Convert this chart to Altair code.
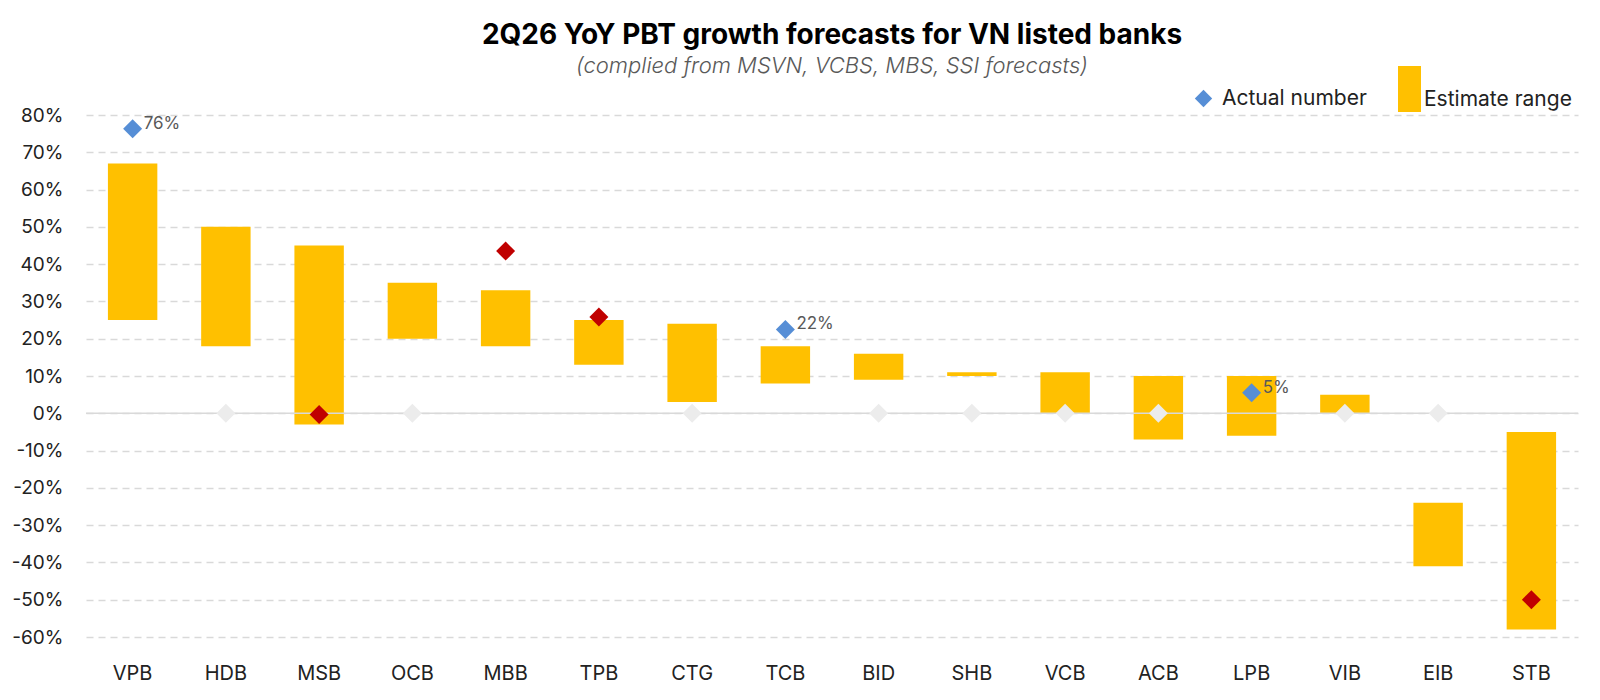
import altair as alt
import pandas as pd

banks = ["VPB", "HDB", "MSB", "OCB", "MBB", "TPB", "CTG", "TCB",
         "BID", "SHB", "VCB", "ACB", "LPB", "VIB", "EIB", "STB"]
range_low = [25, 18, -3, 20, 18, 13, 3, 8, 9, 10, 0, -7, -6, 0, -41, -58]
range_high = [67, 50, 45, 35, 33, 25, 24, 18, 16, 11, 11, 10, 10, 5, -24, -5]
actual = [76.3, 0, -0.3, 0, 43.5, 25.8, 0, 22.5, 0, 0, 0, 0, 5.5, 0, 0, -50]
marker_kind = ["Actual number", "Not reported", "Flagged", "Not reported",
               "Flagged", "Flagged", "Not reported", "Actual number",
               "Not reported", "Not reported", "Not reported", "Not reported",
               "Actual number", "Not reported", "Not reported", "Flagged"]
point_labels = ["76%", "", "", "", "", "", "", "22%", "", "", "", "", "5%", "", "", ""]
y_ticks = [-60, -50, -40, -30, -20, -10, 0, 10, 20, 30, 40, 50, 60, 70, 80]

df = pd.DataFrame({
    "bank": banks,
    "low": range_low,
    "high": range_high,
    "actual": actual,
    "kind": marker_kind,
    "label": point_labels,
    "series": ["Estimate range"] * len(banks),
})

FONT = "Inter"
TEXT = "#222222"

x_enc = alt.X(
    "bank:N", sort=banks, title=None,
    scale=alt.Scale(paddingInner=0.47, paddingOuter=0.235),
    axis=alt.Axis(labelFontSize=20, labelFont=FONT, labelColor=TEXT, tickSize=0,
                  domain=False, labelPadding=26, labelAngle=0, grid=False),
)
y_scale = alt.Scale(domain=[-60, 80], nice=False, zero=False)
y_axis = alt.Axis(values=y_ticks, labelExpr="datum.value + '%'", labelFontSize=19,
                  labelFont=FONT, labelColor=TEXT, tickSize=0, domain=False,
                  labelPadding=23, grid=True, gridColor="#d9d9d9", gridDash=[7, 5],
                  gridWidth=1.3)

base = alt.Chart(df)

bars = base.mark_bar().encode(
    x=x_enc,
    y=alt.Y("low:Q", scale=y_scale, axis=y_axis, title=None),
    y2="high:Q",
    color=alt.Color(
        "series:N",
        scale=alt.Scale(domain=["Estimate range"], range=["#FFC000"]),
        legend=alt.Legend(orient="none", legendX=1289, legendY=-49, direction="horizontal",
                          title=None, symbolType="M0,-1H1V1H0Z", symbolSize=2116,
                          symbolStrokeWidth=0, labelBaseline="top", labelOffset=3,
                          labelFontSize=21, labelFont=FONT, labelColor=TEXT,
                          labelLimit=300, padding=0),
    ),
)

zero_line = alt.Chart(pd.DataFrame({"zero": [0]})).mark_rule(
    color="#d9d9d9", strokeWidth=1.5
).encode(y=alt.Y("zero:Q", scale=y_scale, axis=y_axis, title=None))

points = base.mark_point(shape="diamond", filled=True, size=360, opacity=1).encode(
    x=x_enc,
    y=alt.Y("actual:Q", scale=y_scale, axis=y_axis, title=None),
    color=alt.Color(
        "kind:N",
        scale=alt.Scale(domain=["Actual number", "Flagged", "Not reported"],
                        range=["#568ed6", "#c00000", "#ececec"]),
        legend=alt.Legend(orient="none", legendX=1107, legendY=-27, direction="horizontal",
                          title=None, values=["Actual number"], symbolType="diamond",
                          symbolSize=300, symbolStrokeWidth=0, labelOffset=8,
                          labelFontSize=21, labelFont=FONT, labelColor=TEXT,
                          labelLimit=300, padding=0),
    ),
)

texts = base.transform_filter("datum.label != ''").mark_text(
    align="left", baseline="middle", dx=11, dy=-5, fontSize=17, font=FONT, color="#595959"
).encode(
    x=x_enc,
    y=alt.Y("actual:Q", scale=y_scale, axis=y_axis, title=None),
    text="label:N",
)

chart = alt.layer(bars, zero_line, points, texts).resolve_scale(
    color="independent"
).properties(
    width=1492,
    height=522,
    autosize=alt.AutoSizeParams(type="none"),
    padding={"left": 78, "top": 107, "right": 12, "bottom": 50},
    title=alt.TitleParams(
        text="2Q26 YoY PBT growth forecasts for VN listed banks",
        subtitle="(complied from MSVN, VCBS, MBS, SSI forecasts)",
        font=FONT, fontSize=28, fontWeight="bold", color="#000000",
        subtitleFont=FONT, subtitleFontSize=22, subtitleFontStyle="italic",
        subtitleFontWeight=300, subtitleColor="#595959", subtitlePadding=6,
        anchor="middle", offset=-11,
    ),
).configure(background="white").configure_view(stroke=None)

chart.save("out.html", embed_options={"renderer": "svg", "actions": False})
